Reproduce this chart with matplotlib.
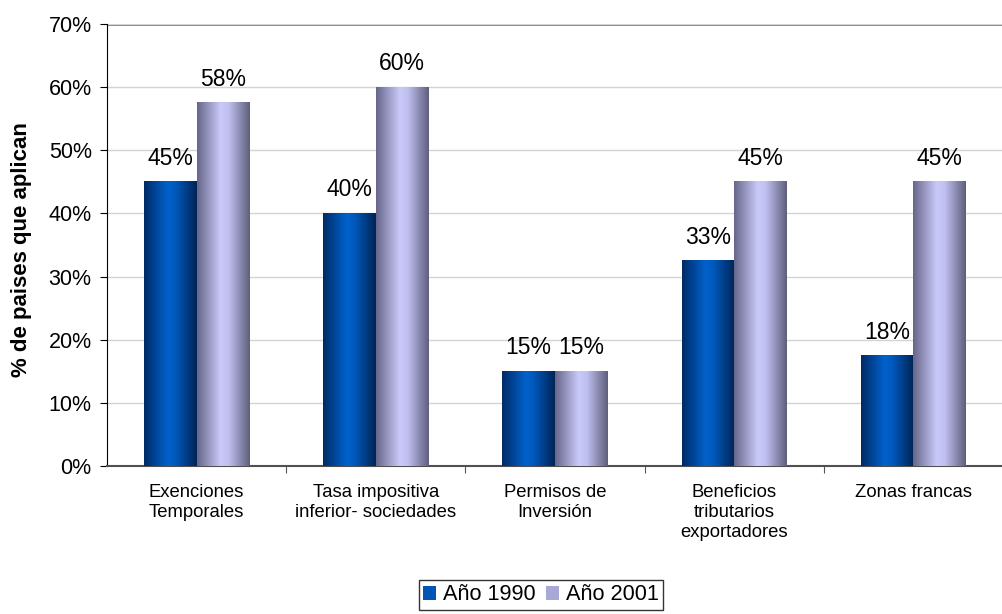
import matplotlib
matplotlib.use("Agg")
import matplotlib.pyplot as plt
import numpy as np
from matplotlib.colors import LinearSegmentedColormap
from matplotlib.patches import Patch

plt.rcParams['font.family'] = ['Liberation Sans', 'DejaVu Sans']

categorias = ["Exenciones\nTemporales", "Tasa impositiva\ninferior- sociedades",
              "Permisos de\nInversión", "Beneficios\ntributarios\nexportadores",
              "Zonas francas"]
anio_1990 = [45, 40, 15, 32.5, 17.5]
anio_2001 = [57.5, 60, 15, 45, 45]
series = ["Año 1990", "Año 2001"]

# degradados horizontales tipo cilindro
cmap_1990 = LinearSegmentedColormap.from_list(
    "c1990", [(0, "#002a66"), (0.45, "#0062cc"), (0.6, "#0058bb"), (1, "#002455")])
cmap_2001 = LinearSegmentedColormap.from_list(
    "c2001", [(0, "#66668a"), (0.45, "#cacafa"), (0.6, "#c0c0f0"), (1, "#5e5e7c")])

fig = plt.figure(figsize=(10.03, 6.14), dpi=100)
ax = fig.add_axes([107 / 1003, 1 - 466 / 614, (1003 - 107) / 1003, (466 - 24) / 614])

x = np.arange(len(categorias))
w = 0.293
grad = np.linspace(0, 1, 256).reshape(1, -1)


def pct(v):
    return "%d%%" % int(v + 0.5)


for vals, off, cm in [(anio_1990, -w / 2, cmap_1990), (anio_2001, w / 2, cmap_2001)]:
    barras = ax.bar(x + off, vals, w, color="none", edgecolor="none", zorder=3)
    for b, v in zip(barras, vals):
        x0 = b.get_x()
        ax.imshow(grad, extent=[x0, x0 + w, 0, v], aspect="auto", cmap=cm,
                  zorder=3, interpolation="bilinear")
        ax.text(x0 + w / 2, v + 1.9, pct(v), ha="center", va="bottom",
                fontsize=16.5, zorder=4)

ax.set_xlim(-0.5, 4.428)
ax.set_ylim(0, 70)
ax.set_yticks(range(0, 71, 10))
ax.set_yticklabels(["%d%%" % t for t in range(0, 71, 10)], fontsize=15.5)
ax.set_xticks(x + 0.5, minor=False)
ax.set_xticklabels([])
ax.tick_params(axis="x", length=5, direction="out", color="#555555")
ax.tick_params(axis="y", length=5, direction="out", pad=6)
for xi, lab in zip(x, categorias):
    ax.text(xi, -2.9, lab, ha="center", va="top", fontsize=13.3, linespacing=1.2)

ax.grid(axis="y", color="#d4d4d4", linewidth=1, zorder=0)
ax.axhline(70, color="#707070", linewidth=2, zorder=1)
for s in ["top", "right"]:
    ax.spines[s].set_visible(False)
ax.spines["left"].set_color("black")
ax.spines["bottom"].set_color("#505050")
ax.spines["bottom"].set_linewidth(1.5)

ax.set_ylabel("% de paises que aplican", fontsize=16, fontweight="bold")
ax.yaxis.set_label_coords((32 - 107) / 896, (466 - 250) / 442)

handles = [Patch(facecolor="#0055b5", label=series[0]),
           Patch(facecolor="#a8a8d8", label=series[1])]
leg = fig.legend(handles=handles, loc="center", bbox_to_anchor=(541 / 1003, 1 - 595 / 614),
                 ncol=2, frameon=True, fancybox=False, fontsize=15.7,
                 handlelength=0.6, handleheight=0.6, handletextpad=0.3,
                 columnspacing=0.5, borderpad=0.2)
leg.get_frame().set_edgecolor("black")
leg.get_frame().set_linewidth(1)

fig.savefig("out.png", dpi=100)
